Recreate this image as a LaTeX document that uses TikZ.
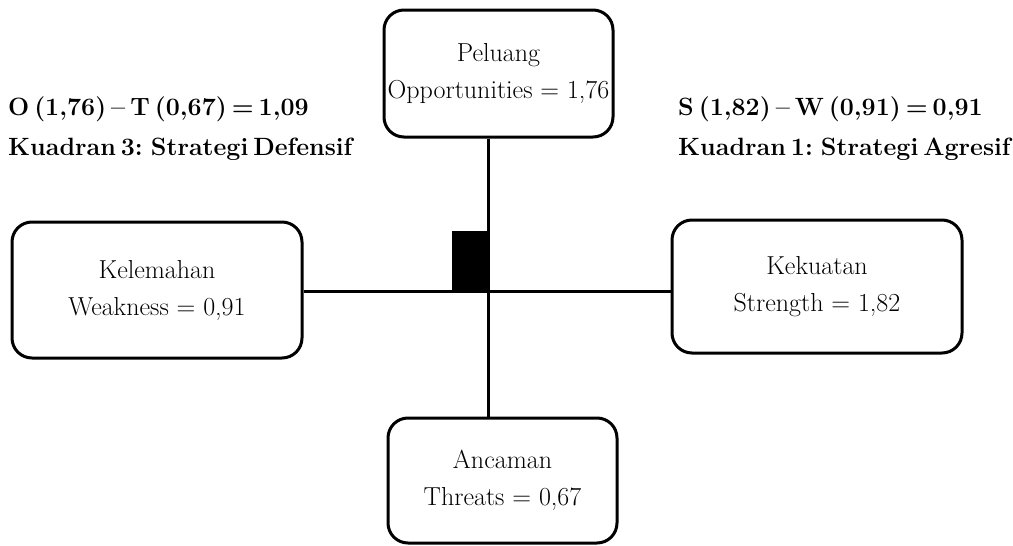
\documentclass[tikz,border=0pt]{standalone}
\usepackage{fontspec}
\newcommand\labfont{\fontsize{25}{40}\selectfont\bfseries\spaceskip 0.2em\relax}
\begin{document}
\begin{tikzpicture}[x=1pt,y=-1pt,
  box/.style={draw, line width=3pt, rounded corners=20pt, align=center,
    font=\fontsize{26}{37}\selectfont, inner sep=0pt},
  lab/.style={anchor=west, align=left, font=\labfont, inner sep=0pt},
  link/.style={line width=3pt}]
\useasboundingbox (0,0) rectangle (1013,546);
\node[box, minimum width=229pt, minimum height=127pt] (top) at (498.5,73.5) {Peluang\\Opportunities = 1,76};
\node[box, minimum width=290pt, minimum height=136pt] (left) at (157,290) {Kelemahan\\Weakness = 0,91};
\node[box, minimum width=290pt, minimum height=133pt] (right) at (817,286.5) {Kekuatan\\Strength = 1,82};
\node[box, minimum width=229pt, minimum height=125pt] (bottom) at (502.5,480.5) {Ancaman\\Threats = 0,67};
\coordinate (vx) at (488,0);
\coordinate (hy) at (0,291);
\draw[link] (top.south -| vx) -- (bottom.north -| vx);
\draw[link] (left.east |- hy) -- (right.west |- hy);
\node[fill=black, draw=black, minimum width=36pt, minimum height=60pt, inner sep=0pt] (mark) at (470,261) {};
\node[lab] (ot) at (8,129) {O (1,76) -- T (0,67) = 1,09\\Kuadran 3: Strategi Defensif};
\node[lab] (sw) at (678,129) {S (1,82) -- W (0,91) = 0,91\\Kuadran 1: Strategi Agresif};
\end{tikzpicture}
\end{document}
